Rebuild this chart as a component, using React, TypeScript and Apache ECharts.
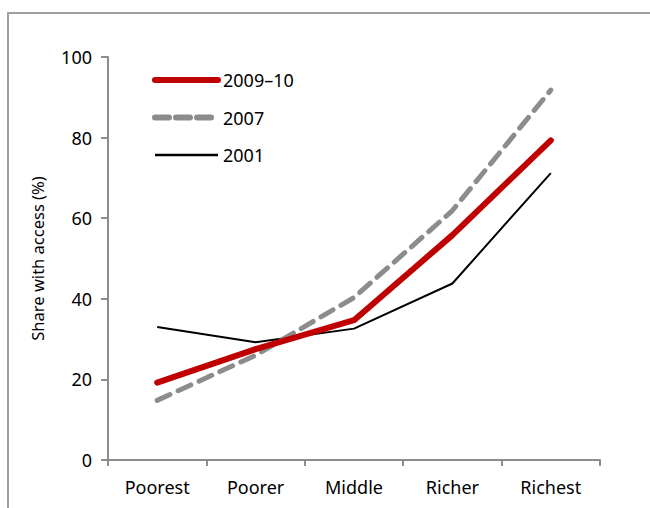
import React, { useEffect, useRef } from "react";
import * as echarts from "echarts";

const categories = ["Poorest", "Poorer", "Middle", "Richer", "Richest"];
const s2009 = [19.2, 27.5, 34.7, 55.8, 79.3];
const s2007 = [14.8, 26.0, 40.3, 61.9, 91.8];
const s2001 = [33.0, 29.2, 32.6, 43.8, 71.2];
const yTicks = { min: 0, max: 100, interval: 20 };

const FONT = "Noto Sans";
const RED = "#c00000";
const GREY = "#8c8c8c";
const DASH = [14, 9];

export default function App() {
  const ref = useRef<HTMLDivElement>(null);
  useEffect(() => {
    if (!ref.current) return;
    const chart = echarts.init(ref.current, null, { renderer: "svg" });
    chart.setOption({
      animation: false,
      textStyle: { fontFamily: FONT, color: "#000" },
      grid: { left: 108, right: 50, top: 57, bottom: 48 },
      graphic: [
        {
          type: "rect",
          shape: { x: 8, y: 13, width: 700, height: 600 },
          style: { fill: "none", stroke: "#a0a0a0", lineWidth: 2 },
          silent: true,
        },
      ],
      legend: {
        orient: "vertical",
        left: 147,
        top: 66,
        itemWidth: 63,
        itemHeight: 20,
        itemGap: 19.5,
        textStyle: { fontFamily: FONT, fontSize: 18, color: "#000" },
        data: [
          { name: "2009–10", itemStyle: { opacity: 0 }, lineStyle: { color: RED, width: 6, cap: "round" } },
          { name: "2007", itemStyle: { opacity: 0 }, lineStyle: { color: GREY, width: 6, type: [14, 7], cap: "round" } },
          { name: "2001", itemStyle: { opacity: 0 }, lineStyle: { color: "#000", width: 2.5 } },
        ],
      },
      xAxis: {
        type: "category",
        data: categories,
        boundaryGap: true,
        axisLine: { lineStyle: { color: GREY, width: 2 } },
        axisTick: { show: true, length: 6, lineStyle: { color: GREY, width: 2 } },
        axisLabel: { fontFamily: FONT, fontSize: 18, color: "#000", margin: 18 },
      },
      yAxis: {
        type: "value",
        min: yTicks.min,
        max: yTicks.max,
        interval: yTicks.interval,
        name: "Share with access (%)",
        nameLocation: "middle",
        nameGap: 62,
        nameTextStyle: { fontFamily: FONT, fontSize: 16.5, color: "#000" },
        splitLine: { show: false },
        axisLine: { show: true, lineStyle: { color: GREY, width: 2 } },
        axisTick: { show: true, length: 7, lineStyle: { color: GREY, width: 2 } },
        axisLabel: { fontFamily: FONT, fontSize: 18, color: "#000", margin: 16 },
      },
      series: [
        {
          name: "2001",
          type: "line",
          data: s2001,
          symbol: "none",
          lineStyle: { color: "#000", width: 2 },
          itemStyle: { color: "#000" },
          z: 2,
        },
        {
          name: "2007",
          type: "line",
          data: s2007,
          symbol: "none",
          lineStyle: { color: GREY, width: 5, type: DASH, cap: "round" },
          itemStyle: { color: GREY },
          z: 3,
        },
        {
          name: "2009–10",
          type: "line",
          data: s2009,
          symbol: "none",
          lineStyle: { color: RED, width: 6, cap: "round" },
          itemStyle: { color: RED },
          z: 4,
        },
      ],
    });
    return () => chart.dispose();
  }, []);
  return (
    <div
      ref={ref}
      style={{ position: "fixed", left: 0, top: 0, width: 650, height: 508, background: "#fff" }}
    />
  );
}
